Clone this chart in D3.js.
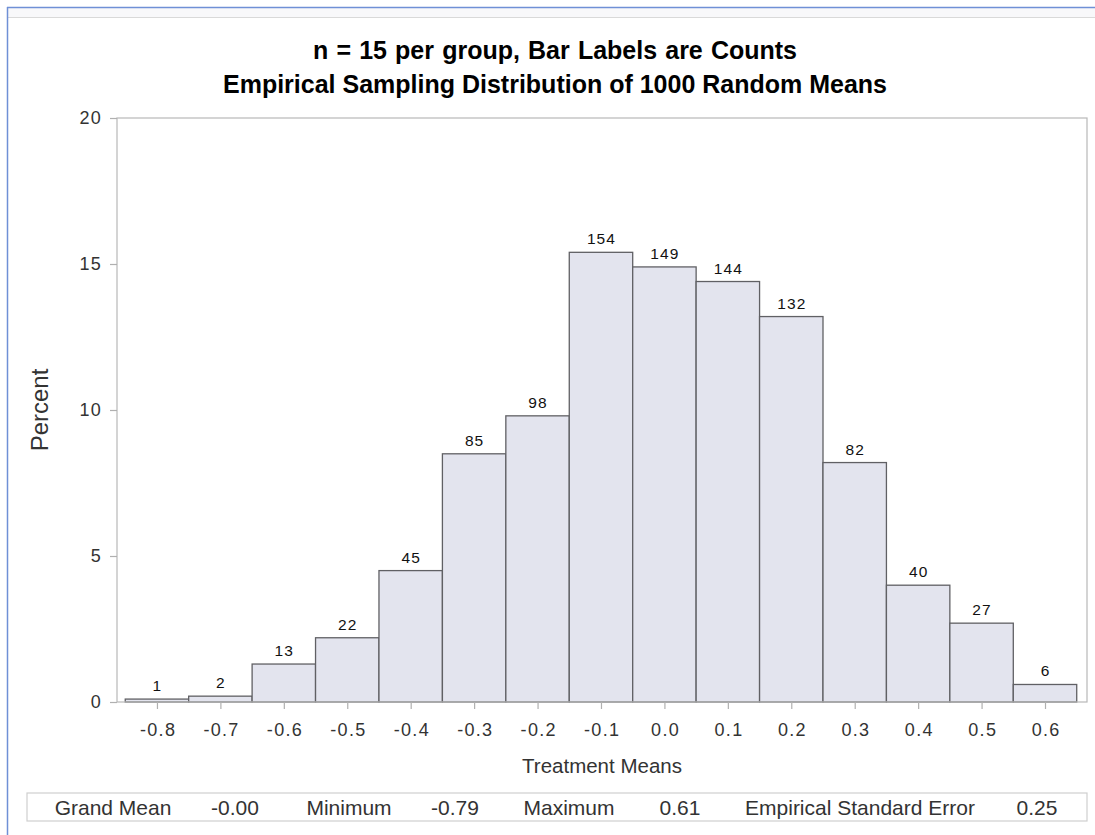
<!DOCTYPE html>
<html>
<head>
<meta charset="utf-8">
<script src="https://cdn.jsdelivr.net/npm/d3@7"></script>
<style>
  html, body { margin: 0; padding: 0; background: #fff; }
  svg { display: block; font-family: "Liberation Sans", Arial, sans-serif; }
</style>
</head>
<body>
<svg id="chart" width="1095" height="835"></svg>
<script>
// Histogram bins (midpoints) and counts out of 1000 simulated means
const binMids = [-0.8, -0.7, -0.6, -0.5, -0.4, -0.3, -0.2, -0.1, 0.0, 0.1, 0.2, 0.3, 0.4, 0.5, 0.6];
const counts = [1, 2, 13, 22, 45, 85, 98, 154, 149, 144, 132, 82, 40, 27, 6];
const totalMeans = 1000;
const binWidth = 0.1;
const yTicks = [0, 5, 10, 15, 20];
const xTicks = binMids;
const titleLines = ["n = 15 per group, Bar Labels are Counts", "Empirical Sampling Distribution of 1000 Random Means"];
const summaryLabels = ["Grand Mean", "Minimum", "Maximum", "Empirical Standard Error"];
const summaryValues = ["-0.00", "-0.79", "0.61", "0.25"];

const svg = d3.select("#chart");

// Window frame around the output
svg.append("rect").attr("x", 8).attr("y", 8).attr("width", 1087).attr("height", 9).attr("fill", "#f8f8fa");
svg.append("line").attr("x1", 8).attr("x2", 1095).attr("y1", 17.5).attr("y2", 17.5).attr("stroke", "#d9d9d9");
svg.append("line").attr("x1", 7).attr("x2", 1095).attr("y1", 7.5).attr("y2", 7.5).attr("stroke", "#6f90d6").attr("stroke-width", 1.5);
svg.append("line").attr("x1", 7.5).attr("x2", 7.5).attr("y1", 7).attr("y2", 835).attr("stroke", "#6f90d6").attr("stroke-width", 1.5);

const plot = { left: 117, right: 1087, top: 118, bottom: 702 };

const x = d3.scaleLinear()
  .domain([-0.8 - 0.063, 0.6 + 0.0662])
  .range([plot.left, plot.right]);
const y = d3.scaleLinear()
  .domain([0, 20])
  .range([plot.bottom, plot.top]);

// Titles
svg.append("g").selectAll("text").data(titleLines).join("text")
  .attr("x", 555).attr("y", (d, i) => 59 + i * 34)
  .attr("text-anchor", "middle")
  .attr("font-size", 25).attr("font-weight", "bold").attr("fill", "#000")
  .attr("word-spacing", (d, i) => i === 0 ? 1.2 : 0)
  .text(d => d);

// Bars
const bars = binMids.map((m, i) => ({ mid: m, count: counts[i], pct: counts[i] / totalMeans * 100 }));
svg.append("g").selectAll("rect").data(bars).join("rect")
  .attr("x", d => x(d.mid - binWidth / 2))
  .attr("width", d => x(d.mid + binWidth / 2) - x(d.mid - binWidth / 2))
  .attr("y", d => y(d.pct))
  .attr("height", d => y(0) - y(d.pct))
  .attr("fill", "#e3e4ee").attr("stroke", "#606064").attr("stroke-width", 1.3);

// Count labels
svg.append("g").selectAll("text").data(bars).join("text")
  .attr("x", d => x(d.mid) + 0.5)
  .attr("y", d => y(d.pct) - 8)
  .attr("text-anchor", "middle")
  .attr("font-size", 15.5).attr("letter-spacing", 1.1).attr("fill", "#111")
  .text(d => d.count);

// Plot frame
svg.append("rect")
  .attr("x", plot.left).attr("y", plot.top)
  .attr("width", plot.right - plot.left).attr("height", plot.bottom - plot.top)
  .attr("fill", "none").attr("stroke", "#b8b8b8").attr("stroke-width", 1.2);

// Axes
const xAxis = svg.append("g").attr("transform", `translate(0,${plot.bottom})`)
  .call(d3.axisBottom(x).tickValues(xTicks).tickFormat(d3.format(".1f")).tickSize(7).tickSizeOuter(0).tickPadding(14));
const yAxis = svg.append("g").attr("transform", `translate(${plot.left},0)`)
  .call(d3.axisLeft(y).tickValues(yTicks).tickSize(7).tickSizeOuter(0).tickPadding(8));
[xAxis, yAxis].forEach(g => {
  g.select(".domain").remove();
  g.selectAll(".tick line").attr("stroke", "#b0b0b0").attr("stroke-width", 1.2);
  g.selectAll(".tick text").attr("font-size", 18).attr("letter-spacing", 1.3).attr("fill", "#333")
    .attr("font-family", "'Liberation Sans', Arial, sans-serif");
});
xAxis.selectAll(".tick text").attr("dx", 0.65).text(d => d3.format(".1f")(d).replace("−", "-"));

// Axis titles
svg.append("text").attr("x", 602).attr("y", 773).attr("text-anchor", "middle")
  .attr("font-size", 20.5).attr("fill", "#333").text("Treatment Means");
svg.append("text").attr("transform", "translate(48,410) rotate(-90)").attr("text-anchor", "middle")
  .attr("font-size", 24).attr("fill", "#333").text("Percent");

// Summary statistics inset
svg.append("rect").attr("x", 27).attr("y", 793).attr("width", 1060).attr("height", 28)
  .attr("fill", "#fff").attr("stroke", "#cfcfcf").attr("stroke-width", 1.2);
const labelX = [113, 349, 569, 860];
const valueX = [235, 455, 680, 1037];
const inset = svg.append("g").attr("font-size", 21).attr("fill", "#333").attr("text-anchor", "middle");
inset.selectAll("text.lab").data(summaryLabels).join("text").attr("class", "lab")
  .attr("x", (d, i) => labelX[i]).attr("y", 815).text(d => d);
inset.selectAll("text.val").data(summaryValues).join("text").attr("class", "val")
  .attr("x", (d, i) => valueX[i]).attr("y", 815).text(d => d);
</script>
</body>
</html>
